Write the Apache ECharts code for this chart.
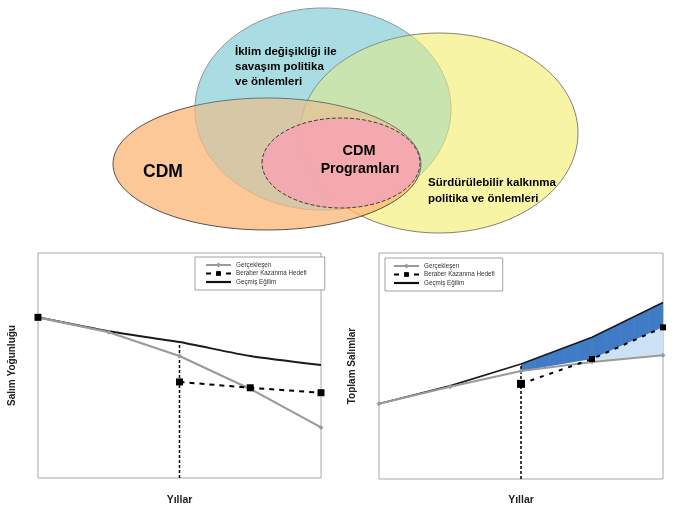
<!DOCTYPE html>
<html><head><meta charset="utf-8">
<script src="https://cdn.jsdelivr.net/npm/echarts@6/dist/echarts.min.js"></script>
<style>html,body{margin:0;padding:0;background:#fff}#c{width:679px;height:507px}</style>
</head><body><div id="c"></div>
<script>
// ---- data ----
const years = ['t0', 't1', 't2', 't3', 't4'];
const seriesNames = ['Gerçekleşen', 'Beraber Kazanma Hedefi', 'Geçmiş Eğilim'];
// Left chart: Salım Yoğunluğu
const intensityActual = [71.4, 64.8, 54.2, 39.6, 22.5];
const intensityTarget = [71.4, null, 42.7, 40.1, 37.9];
const intensityTrend  = [71.4, 65.2, 60.4, 54.2, 50.2];
// Right chart: Toplam Salımlar
const totalActual = [33.3, 40.8, 47.8, 51.8, 54.8];
const totalTarget = [null, null, 42.1, 53.1, 67.1];
const totalTrend  = [33.3, 41.2, 50.9, 62.7, 78.1];
const policyStart = 2;
// Venn labels
const vennClimate = ['İklim değişikliği ile', 'savaşım politika', 've önlemleri'];
const vennCdm = 'CDM';
const vennPrograms = ['CDM', 'Programları'];
const vennSustain = ['Sürdürülebilir kalkınma', 'politika ve önlemleri'];
const axisNames = { x: 'Yıllar', yLeft: 'Salım Yoğunluğu', yRight: 'Toplam Salımlar' };

// ---- styles ----
const FONT = 'Liberation Sans, Arial, sans-serif';
const GRAY = '#9a9a9a';
const chart = echarts.init(document.getElementById('c'), null, { renderer: 'canvas' });

function axisX(idx, gap) {
  return { gridIndex: idx, type: 'category', data: years, boundaryGap: false,
    axisLine: { show: false }, axisTick: { show: false }, axisLabel: { show: false }, splitLine: { show: false },
    name: axisNames.x, nameLocation: 'middle', nameGap: gap,
    nameTextStyle: { fontFamily: FONT, fontWeight: 'bold', fontSize: 10.5, color: '#222' } };
}
function axisY(idx, name, gap) {
  return { gridIndex: idx, type: 'value', min: 0, max: 100,
    axisLine: { show: false }, axisTick: { show: false }, axisLabel: { show: false }, splitLine: { show: false },
    name: name, nameLocation: 'middle', nameGap: gap,
    nameTextStyle: { fontFamily: FONT, fontWeight: 'bold', fontSize: 10, color: '#222' } };
}
function legendAt(left, top, padding) {
  return {
    data: [
      { name: seriesNames[0] },
      { name: seriesNames[1] },
      { name: seriesNames[2], icon: 'path://M0,0H25V2.2H0Z', itemStyle: { color: '#111' } }
    ],
    orient: 'vertical', left: left, top: top, padding: padding,
    itemWidth: 25, itemHeight: 6, itemGap: 2.5, borderColor: '#a0a0a0', borderWidth: 1,
    backgroundColor: '#fff', selectedMode: false, symbolKeepAspect: true,
    textStyle: { fontFamily: FONT, fontSize: 6.3, color: '#333' } };
}

const ellipse = (cx, cy, rx, ry, fill, stroke, opacity, z, dash) => ({
  type: 'ellipse', z: z, shape: { cx, cy, rx, ry },
  style: { fill, stroke, lineWidth: 1, opacity, lineDash: dash || null }
});
const txt = (x, y, text, size, align) => ({
  type: 'text', z: 20, x: x, y: y,
  style: { text, fill: '#000', font: 'bold ' + size + 'px ' + FONT, textAlign: align || 'left', textVerticalAlign: 'middle' }
});

const graphics = [
  ellipse(323, 109, 128, 101, '#aadde3', '#8a8a8a', 1, 1),
  ellipse(439, 133, 139, 100, '#f3ed6b', '#333', 0.6, 2),
  ellipse(267, 164, 154, 66, '#fcb676', '#222', 0.75, 3),
  ellipse(323, 109, 128, 101, '#aadde3', null, 0.28, 4),
  ellipse(341, 163, 79, 45, '#f4a6b0', '#333', 0.92, 5, [4, 2]),
  txt(235, 52, vennClimate[0], 11.5), txt(235, 67, vennClimate[1], 11.5), txt(235, 82, vennClimate[2], 11.5),
  txt(163, 172, vennCdm, 17.5, 'center'),
  txt(359, 151, vennPrograms[0], 14.5, 'center'), txt(360, 169, vennPrograms[1], 14, 'center'),
  txt(428, 183, vennSustain[0], 11.5), txt(428, 199, vennSustain[1], 11.5)
];

const option = {
  backgroundColor: '#fff',
  animation: false,
  graphic: graphics,
  grid: [
    { left: 38, top: 253, width: 283, height: 227, show: true, borderColor: '#a8a8a8', borderWidth: 1, backgroundColor: 'transparent' },
    { left: 379, top: 253, width: 284, height: 228, show: true, borderColor: '#a8a8a8', borderWidth: 1, backgroundColor: 'transparent' }
  ],
  xAxis: [axisX(0, 17), axisX(1, 16)],
  yAxis: [axisY(0, axisNames.yLeft, 21), axisY(1, axisNames.yRight, 22)],
  legend: [legendAt(195, 257, [5, 18, 5, 10]), legendAt(385, 258, [5, 8, 5, 8])],
  series: [
    // left chart
    { name: seriesNames[2], type: 'line', xAxisIndex: 0, yAxisIndex: 0, data: intensityTrend, z: 3,
      symbol: 'none', smooth: 0.2, lineStyle: { color: '#1a1a1a', width: 2 }, itemStyle: { color: '#1a1a1a' } },
    { name: seriesNames[0], type: 'line', xAxisIndex: 0, yAxisIndex: 0, data: intensityActual, z: 4,
      symbol: 'diamond', symbolSize: 5, lineStyle: { color: GRAY, width: 2.2 }, itemStyle: { color: GRAY } },
    { name: seriesNames[1], type: 'line', xAxisIndex: 0, yAxisIndex: 0, data: intensityTarget, z: 5,
      symbol: 'rect', symbolSize: 7, showAllSymbol: true, connectNulls: false,
      lineStyle: { color: '#000', width: 2, type: [5, 5] }, itemStyle: { color: '#000' } },
    { name: 'policy-left', type: 'line', xAxisIndex: 0, yAxisIndex: 0, z: 2, symbol: 'none',
      data: [[policyStart, 0], [policyStart, intensityTrend[policyStart]]],
      lineStyle: { color: '#000', width: 1.5, type: [3, 2] } },
    // right chart
    { name: 'fill', type: 'custom', xAxisIndex: 1, yAxisIndex: 1, z: 1, silent: true,
      data: [[policyStart, 0]],
      renderItem: function (params, api) {
        const n = years.length;
        const top = [], bottom = [];
        for (let i = policyStart; i < n; i++) {
          top.push(api.coord([i, totalTrend[i]]));
          const t = totalTarget[i], a = totalActual[i];
          bottom.push(api.coord([i, (t != null && t > a) ? t : a]));
        }
        const dark = top.concat(bottom.slice().reverse());
        const idx = [];
        for (let i = policyStart; i < n; i++) if (totalTarget[i] != null && totalTarget[i] > totalActual[i]) idx.push(i);
        const light = [];
        idx.forEach(i => light.push(api.coord([i, totalTarget[i]])));
        idx.slice().reverse().forEach(i => light.push(api.coord([i, totalActual[i]])));
        const children = [
          { type: 'polygon', shape: { points: dark }, style: { fill: '#3f7cc5', stroke: null } },
          { type: 'polygon', shape: { points: light }, style: { fill: '#cde1f4', stroke: null } }
        ];
        // subtle vertical banding inside the dark band
        const steps = 5;
        for (let s = 0; s < top.length - 1; s++) {
          for (let k = 1; k <= steps; k++) {
            const f = k / steps;
            const x = top[s][0] + (top[s + 1][0] - top[s][0]) * f;
            const y1 = top[s][1] + (top[s + 1][1] - top[s][1]) * f;
            const y2 = bottom[s][1] + (bottom[s + 1][1] - bottom[s][1]) * f;
            children.push({ type: 'line', shape: { x1: x, y1: y1 + 1, x2: x, y2: y2 - 1 },
              style: { stroke: '#5a93d6', lineWidth: 1, opacity: 0.3 } });
          }
        }
        return { type: 'group', children: children };
      } },
    { name: seriesNames[2], type: 'line', xAxisIndex: 1, yAxisIndex: 1, data: totalTrend, z: 3,
      symbol: 'none', lineStyle: { color: '#1a1a1a', width: 1.6 }, itemStyle: { color: '#1a1a1a' } },
    { name: seriesNames[0], type: 'line', xAxisIndex: 1, yAxisIndex: 1, data: totalActual, z: 4,
      symbol: 'diamond', symbolSize: 5, lineStyle: { color: GRAY, width: 2 }, itemStyle: { color: GRAY } },
    { name: seriesNames[1], type: 'line', xAxisIndex: 1, yAxisIndex: 1, data: totalTarget, z: 5,
      symbol: 'rect', symbolSize: (v, p) => p.dataIndex === policyStart ? 8 : 6, showAllSymbol: true,
      lineStyle: { color: '#000', width: 2, type: [4, 6] }, itemStyle: { color: '#000' } },
    { name: 'policy-right', type: 'line', xAxisIndex: 1, yAxisIndex: 1, z: 2, symbol: 'none',
      data: [[policyStart, 0], [policyStart, totalTrend[policyStart]]],
      lineStyle: { color: '#000', width: 1.5, type: [3, 2] } }
  ]
};
chart.setOption(option);
</script>
</body></html>
